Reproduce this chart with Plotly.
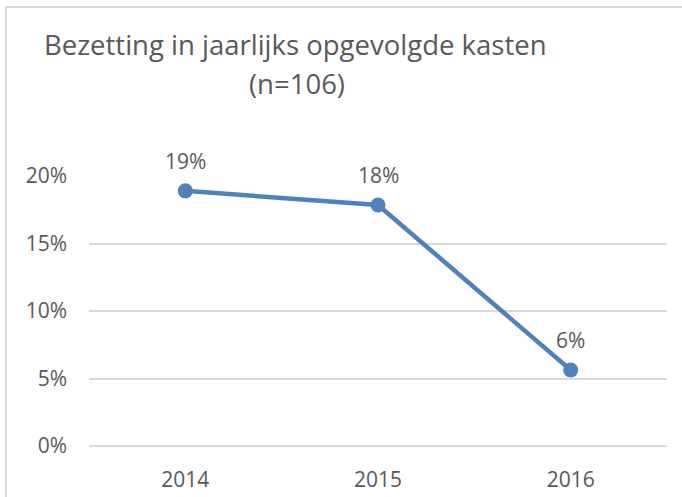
import plotly.graph_objects as go

# Data
years = ["2014", "2015", "2016"]
occupancy = [0.189, 0.1785, 0.0563]
labels = ["19%", "18%", "6%"]
y_ticks = [0, 0.05, 0.10, 0.15, 0.20]
y_tick_labels = ["0%", "5%", "10%", "15%", "20%"]
title_line1 = "Bezetting in jaarlijks opgevolgde kasten"
title_line2 = "(n=106)"

W, H = 682, 497
L, R, T, B = 89, 15, 176, 51
pw, ph = W - L - R, H - T - B

def px_to_paper_x(px):
    return (px - L) / pw

def px_to_paper_y(py):
    return (H - B - py) / ph

FONT = "Open Sans"
TXT = "#595959"
BLUE = "#4F81BD"
GRID = "#D9D9D9"

fig = go.Figure()
fig.add_trace(go.Scatter(
    x=years, y=occupancy, mode="lines+markers",
    line=dict(color=BLUE, width=4.5),
    marker=dict(color=BLUE, size=15),
    cliponaxis=False, hoverinfo="skip", showlegend=False,
))

annotations = []
for i, (yv, t) in enumerate(zip(occupancy, labels)):
    annotations.append(dict(
        x=i, y=yv, xref="x", yref="y", text=t, showarrow=False,
        yanchor="bottom", yshift=14,
        font=dict(family=FONT, size=21, color=TXT),
    ))

annotations.append(dict(
    x=px_to_paper_x(295), y=px_to_paper_y(44), xref="paper", yref="paper",
    text=title_line1, showarrow=False, xanchor="center", yanchor="middle",
    font=dict(family=FONT, size=27.5, color=TXT),
))
annotations.append(dict(
    x=px_to_paper_x(296.5), y=px_to_paper_y(84), xref="paper", yref="paper",
    text=title_line2, showarrow=False, xanchor="center", yanchor="middle",
    font=dict(family=FONT, size=27.5, color=TXT),
))

shapes = [dict(
    type="rect", xref="paper", yref="paper",
    x0=px_to_paper_x(6), x1=px_to_paper_x(700),
    y0=px_to_paper_y(520), y1=px_to_paper_y(7),
    line=dict(color=GRID, width=2), fillcolor="rgba(0,0,0,0)", layer="below",
)]

fig.update_layout(
    width=W, height=H,
    margin=dict(l=L, r=R, t=T, b=B, pad=0, autoexpand=False),
    paper_bgcolor="white", plot_bgcolor="white",
    annotations=annotations, shapes=shapes,
    xaxis=dict(
        type="category", range=[-0.5, 2.5], showgrid=False, zeroline=False,
        showline=False, ticks="", automargin=False,
        tickfont=dict(family=FONT, size=21, color=TXT),
        ticklabelstandoff=19,
    ),
    yaxis=dict(
        range=[0, 0.2], tickvals=y_ticks, ticktext=y_tick_labels,
        showgrid=True, gridcolor=GRID, gridwidth=1.5,
        zeroline=True, zerolinecolor=GRID, zerolinewidth=1.5,
        showline=False, ticks="", automargin=False,
        tickfont=dict(family=FONT, size=21, color=TXT),
        ticklabelstandoff=21,
    ),
)

fig.write_html(
    "out.html",
    config={"displayModeBar": False},
    post_script="document.body.style.margin='0';",
)
